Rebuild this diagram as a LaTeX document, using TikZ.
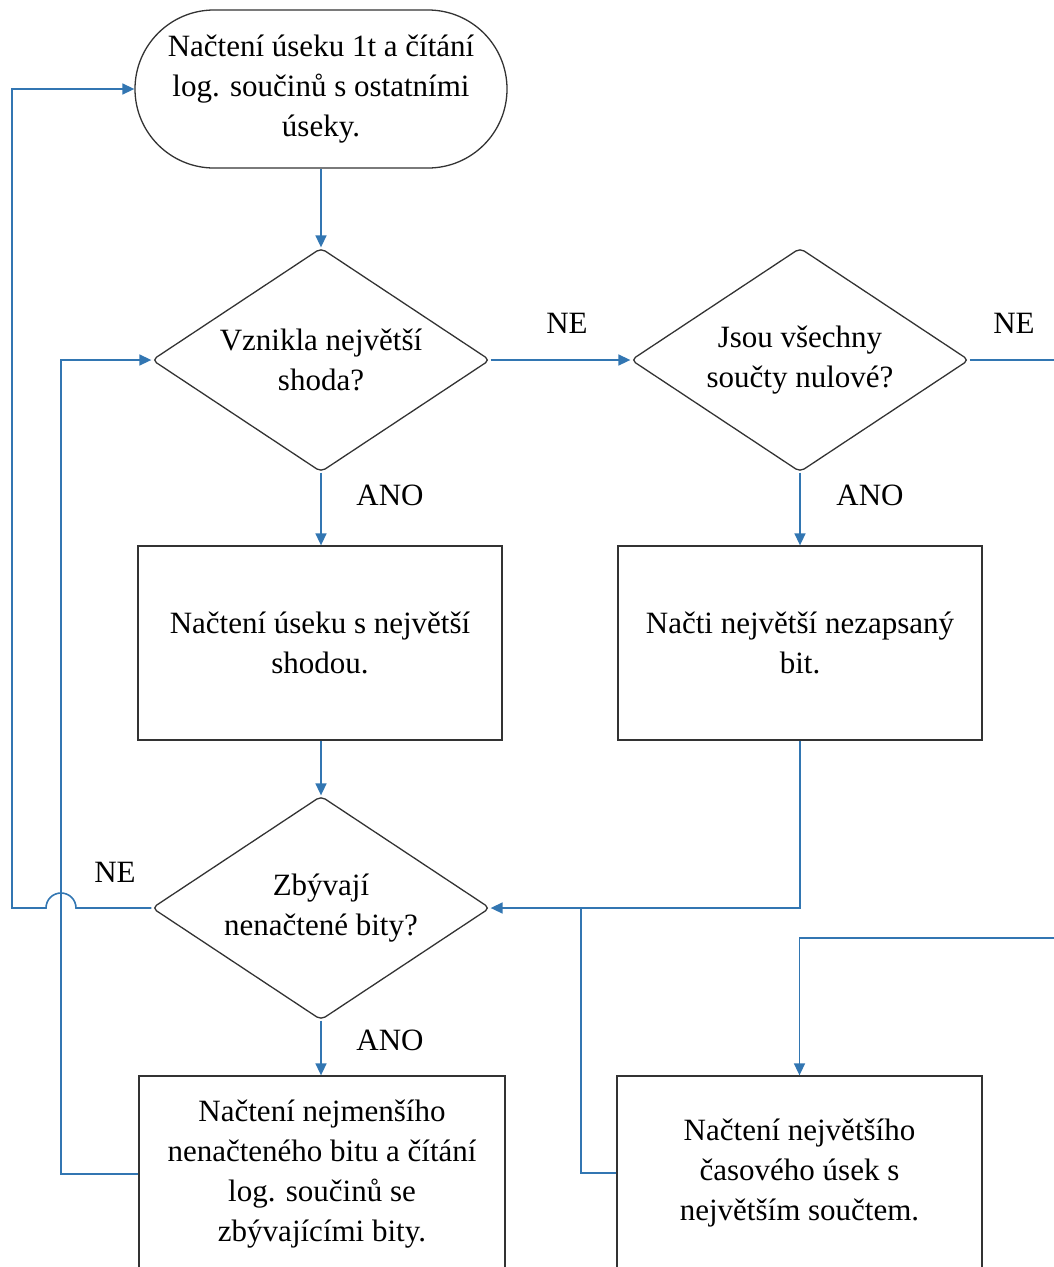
\documentclass[tikz,border=0pt]{standalone}
\usepackage{fontspec}
\setmainfont{Liberation Serif}
\usetikzlibrary{shapes.geometric,shapes.misc,arrows.meta}
\definecolor{lineblue}{RGB}{50,118,178}
\begin{document}
\begin{tikzpicture}[x=1pt,y=-1pt,
  every node/.style={font=\fontsize{31}{40}\selectfont, align=center, text=black},
  boxst/.style={draw=black!80, line width=1.3pt, rectangle, inner sep=0pt},
  decst/.style={draw=black!80, line width=1.3pt, diamond, inner sep=0pt, minimum width=338pt, minimum height=224pt, rounded corners=5pt},
  termst/.style={draw=black!80, line width=1.3pt, rounded rectangle, inner sep=0pt, minimum width=372pt, minimum height=158pt},
  conn/.style={draw=lineblue, line width=1.6pt},
  arr/.style={conn, -{Triangle[length=12pt,width=11pt]}},
  lbl/.style={inner sep=0pt}
]
\useasboundingbox (0,0) rectangle (1054,1267);

\node[termst] (t) at (321,89) {Načtení úseku 1t a čítání\\log. součinů s ostatními\\úseky.};
\node[decst, label={[align=center]center:Vznikla největší\\shoda?}] (d1) at (321,360) {};
\node[decst, label={[align=center]center:Jsou všechny\\součty nulové?}] (d2) at (800,360) {};
\node[boxst, minimum width=364pt, minimum height=194pt] (b1) at (320,643) {Načtení úseku s největší\\shodou.};
\node[boxst, minimum width=364pt, minimum height=194pt] (b2) at (800,643) {Načti největší nezapsaný\\bit.};
\node[decst, label={[align=center]center:Zbývají\\nenačtené bity?}] (d3) at (321,908) {};
\node[boxst, minimum width=366pt, minimum height=196pt] (b3) at (322,1174) {Načtení nejmenšího\\nenačteného bitu a čítání\\log. součinů se\\zbývajícími bity.};
\node[boxst, minimum width=365pt, minimum height=194pt] (b4) at (799.5,1173) {Načtení největšího\\časového úsek s\\největším součtem.};

% labels
\node[lbl] (ne1) at (567,323) {NE};
\node[lbl] (ne2) at (1014,323) {NE};
\node[lbl] (ne3) at (115,872) {NE};
\node[lbl] (ano1) at (390,495) {ANO};
\node[lbl] (ano2) at (870,495) {ANO};
\node[lbl] (ano3) at (390,1040) {ANO};

% connectors
\draw[arr] (t.south) -- (d1.north);
\draw[arr] (d1.east) -- (d2.west);
\coordinate (rt1) at (1056,360);
\draw[conn] (d2.east) -- (rt1);
\draw[arr] (d1.south) -- (d1.south |- b1.north);
\draw[arr] (d2.south) -- (b2.north);
\draw[arr] (b1.south -| d3.north) -- (d3.north);
\draw[arr] (b2.south) |- (d3.east);
\draw[arr] (d3.west) -- (76,908) arc[start angle=0,end angle=-180,radius=15] -- (12,908) |- (t.west);
\draw[arr] (d3.south) -- (d3.south |- b3.north);
\draw[arr] (b3.west) -| (61,360) -- (d1.west);
\coordinate (j) at (581,908);
\draw[conn] (b4.west) -| (j);
\coordinate (rt2) at (1056,938);
\draw[arr] (rt2) -| (b4.north);
\end{tikzpicture}
\end{document}
